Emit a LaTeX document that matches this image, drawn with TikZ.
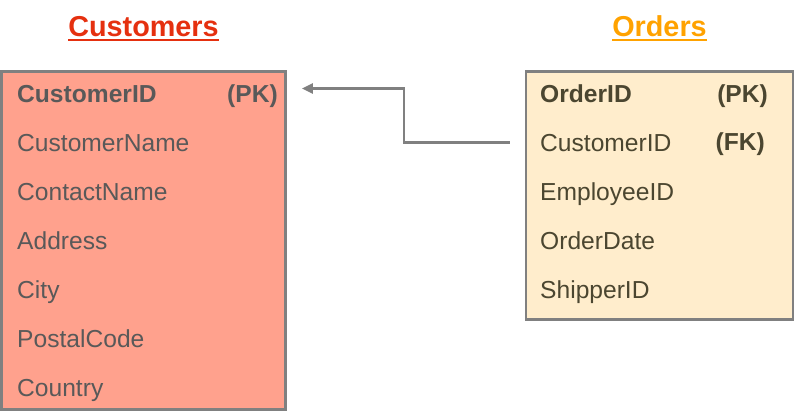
\documentclass[tikz,border=0pt]{standalone}
\usepackage{fontspec}
\setmainfont{Liberation Sans}
\usepackage{xcolor}
\usepackage{tikz}
\usetikzlibrary{positioning,arrows.meta}
\definecolor{red1}{HTML}{E5300F}
\definecolor{orange1}{HTML}{FFA200}
\definecolor{salmon1}{HTML}{FFA18D}
\definecolor{cream1}{HTML}{FFEDCC}
\definecolor{gray1}{HTML}{808080}
\definecolor{gtext}{HTML}{595959}
\definecolor{otext}{HTML}{4B4630}

\begin{document}
\begin{tikzpicture}[
    x=1pt, y=-1pt,
    node distance=31.3pt,
    table/.style={draw=gray1, line width=2.6pt, rectangle, inner sep=0pt},
    title/.style={inner sep=0pt, font=\bfseries\fontsize{28.8}{30}\selectfont},
    field/.style={anchor=west, inner sep=0pt, text height=17.4pt, text depth=0pt,
                  font=\fontsize{24.6}{26}\selectfont},
    keytag/.style={field, anchor=east, font=\bfseries\fontsize{24.6}{26}\selectfont},
    fk/.style={-{Triangle[length=11pt, width=10pt]}, draw=gray1, line width=2.4pt},
]
\useasboundingbox (0,0) rectangle (795,417);

% tables
\node[table, fill=salmon1, minimum width=284pt, minimum height=338pt] (cust) at (143.5,240.5) {};
\node[table, fill=cream1, minimum width=267pt, minimum height=248pt] (ord) at (659.5,195.5) {};

% titles
\node[title, text=red1, anchor=base] (ctitle) at ([yshift=34pt]cust.north) {Customers};
\node[title, text=orange1, anchor=base] (otitle) at ([yshift=34pt]ord.north) {Orders};
\draw[red1, line width=2.5pt] ([yshift=-4pt]ctitle.base west) -- ([yshift=-4pt]ctitle.base east);
\draw[orange1, line width=2.5pt] ([yshift=-4pt]otitle.base west) -- ([yshift=-4pt]otitle.base east);

% Customers fields
\node[field, text=gtext, font=\bfseries\fontsize{24.6}{26}\selectfont] (c1) at (17,93.5) {CustomerID};
\node[field, text=gtext, below=of c1.south west, anchor=north west] (c2) {CustomerName};
\node[field, text=gtext, below=of c2.south west, anchor=north west] (c3) {ContactName};
\node[field, text=gtext, below=of c3.south west, anchor=north west] (c4) {Address};
\node[field, text=gtext, below=of c4.south west, anchor=north west] (c5) {City};
\node[field, text=gtext, below=of c5.south west, anchor=north west] (c6) {PostalCode};
\node[field, text=gtext, below=of c6.south west, anchor=north west] (c7) {Country};
\node[keytag, text=gtext] (cpk) at (278,93.5) {(PK)};

% Orders fields
\node[field, text=otext, font=\bfseries\fontsize{24.6}{26}\selectfont] (o1) at (540,93.5) {OrderID};
\node[field, text=otext, below=of o1.south west, anchor=north west] (o2) {CustomerID};
\node[field, text=otext, below=of o2.south west, anchor=north west] (o3) {EmployeeID};
\node[field, text=otext, below=of o3.south west, anchor=north west] (o4) {OrderDate};
\node[field, text=otext, below=of o4.south west, anchor=north west] (o5) {ShipperID};
\node[keytag, text=otext] (opk) at (768,93.5) {(PK)};
\node[keytag, text=otext] (ofk) at (765,142.2) {(FK)};

% foreign key
\draw[fk, shorten <=15pt, shorten >=15pt] (ord.west |- o2) -- ++(-121,0) |- ([yshift=5pt]cust.east |- c1);
\end{tikzpicture}
\end{document}
